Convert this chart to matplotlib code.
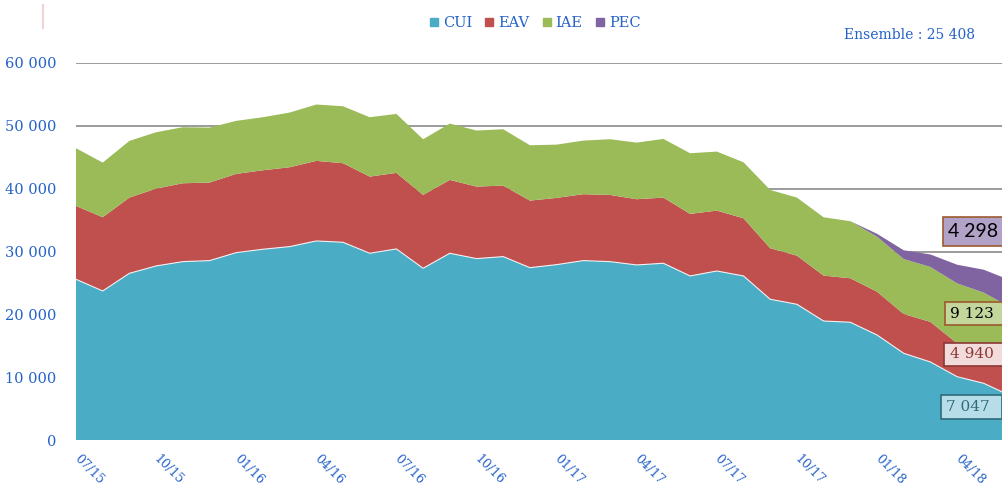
import numpy as np
import matplotlib
matplotlib.use('Agg')
import matplotlib.pyplot as plt
from matplotlib.patches import Rectangle
from matplotlib.lines import Line2D

# ---- data ----
months = ['07/15', '08/15', '09/15', '10/15', '11/15', '12/15',
          '01/16', '02/16', '03/16', '04/16', '05/16', '06/16',
          '07/16', '08/16', '09/16', '10/16', '11/16', '12/16',
          '01/17', '02/17', '03/17', '04/17', '05/17', '06/17',
          '07/17', '08/17', '09/17', '10/17', '11/17', '12/17',
          '01/18', '02/18', '03/18', '04/18', '05/18', '06/18']
cui = [25580, 23720, 26530, 27700, 28390, 28550, 29820, 30360, 30780, 31680,
       31470, 29720, 30410, 27330, 29720, 28870, 29190, 27430, 27910, 28550,
       28390, 27860, 28130, 26110, 26900, 26110, 22400, 21600, 18940, 18740,
       16720, 13800, 12420, 10080, 9020, 7047]
eav = [11670, 11730, 12050, 12310, 12470, 12420, 12530, 12570, 12630, 12740,
       12580, 12200, 12100, 11670, 11670, 11460, 11300, 10670, 10620, 10570,
       10610, 10460, 10450, 9870, 9610, 9180, 8120, 7740, 7220, 7000,
       6890, 6250, 6380, 5310, 4380, 4940]
iae = [9190, 8700, 9020, 8970, 8920, 8750, 8440, 8440, 8700, 8970,
       9070, 9450, 9390, 8870, 8970, 8920, 8970, 8810, 8480, 8530,
       8870, 9010, 9340, 9660, 9390, 8910, 9280, 9240, 9290, 9080,
       8760, 8750, 8740, 9540, 10050, 9123]
pec = [0, 0, 0, 0, 0, 0, 0, 0, 0, 0,
       0, 0, 0, 0, 0, 0, 0, 0, 0, 0,
       0, 0, 0, 0, 0, 0, 0, 0, 0, 0,
       450, 1400, 1990, 2970, 3650, 4298]
series_names = ['CUI', 'EAV', 'IAE', 'PEC']
colors = ['#4BACC6', '#C0504D', '#9BBB59', '#8064A2']
yticks = [0, 10000, 20000, 30000, 40000, 50000, 60000]

# ---- figure ----
W, H = 1003, 491
fig = plt.figure(figsize=(W / 100, H / 100), dpi=100)
blue = '#2461C8'
serif = ['DejaVu Serif']

ax = fig.add_axes([76 / W, (H - 440) / H, 934.5 / W, 377 / H])
x = np.arange(len(months))
ax.stackplot(x, cui, eav, iae, pec, colors=colors, linewidth=0, zorder=2)
ax.plot(x, cui, color='white', lw=0.8, alpha=0.85, zorder=3)

ax.set_xlim(0, len(months) - 1)
ax.set_ylim(0, 60000)
ax.set_yticks(yticks)
ax.set_yticklabels([f"{v:,}".replace(',', ' ') for v in yticks],
                   fontfamily=serif, fontsize=10.5, color=blue)
ax.yaxis.grid(True, color='#8A8A8A', lw=1.2)
ax.set_axisbelow(True)
ax.tick_params(axis='y', length=0, pad=14)
for s in ax.spines.values():
    s.set_visible(False)

tick_idx = list(range(0, len(months), 3))
ax.set_xticks(tick_idx)
ax.set_xticklabels([months[i] for i in tick_idx], fontfamily=serif,
                   fontsize=9, color=blue, rotation=-45,
                   ha='left', va='center', rotation_mode='anchor')
ax.tick_params(axis='x', length=0, pad=12)

# legend
handles = [Line2D([], [], marker='s', ls='', color=c, markersize=6)
           for c in colors]
fig.legend(handles, series_names, loc='center',
           bbox_to_anchor=(535 / W, 1 - 23 / H), ncol=4, frameon=False,
           handlelength=0.6, handletextpad=0.3, columnspacing=0.9,
           prop={'family': serif, 'size': 10.5}, labelcolor=blue)

total = cui[-1] + eav[-1] + iae[-1] + pec[-1]
fig.text(844 / W, 1 - 35 / H, f"Ensemble : {total:,}".replace(',', ' '),
         fontfamily=serif, fontsize=10, color=blue, ha='left', va='center')

# decorative line top-left
fig.add_artist(Line2D([43 / W, 43 / W], [1 - 5 / H, 1 - 28 / H],
                      color='#F2D3D3', lw=1.5))

# value boxes
def vbox(x0, x1, y0, y1, face, edge, txt, tcolor, family, size, tx):
    fig.add_artist(Rectangle((x0 / W, 1 - y1 / H), (x1 - x0) / W, (y1 - y0) / H,
                             transform=fig.transFigure, facecolor=face,
                             edgecolor=edge, lw=1.2, zorder=5))
    fig.text(tx / W, 1 - (y0 + y1) / 2 / H, txt, color=tcolor,
             fontfamily=family, fontsize=size, ha='left', va='center',
             zorder=6)

fmt = lambda v: f"{v:,}".replace(',', ' ')
vbox(943, 1012, 217, 246, '#B3A2C7', '#9C5A2C', fmt(pec[-1]), 'black',
     ['Lato'], 14, 948)
vbox(945, 1012, 302, 325, '#C3D69B', '#9C5A2C', fmt(iae[-1]), 'black',
     serif, 11, 950)
vbox(944, 1012, 343, 366, '#F2DCDB', '#8C3836', fmt(eav[-1]), '#8C3836',
     serif, 11, 950)
vbox(941, 1002, 395, 419, '#B7DEE8', '#2E6A7A', fmt(cui[-1]), '#2E6A7A',
     serif, 11, 946)

fig.savefig('out.png', dpi=100)
